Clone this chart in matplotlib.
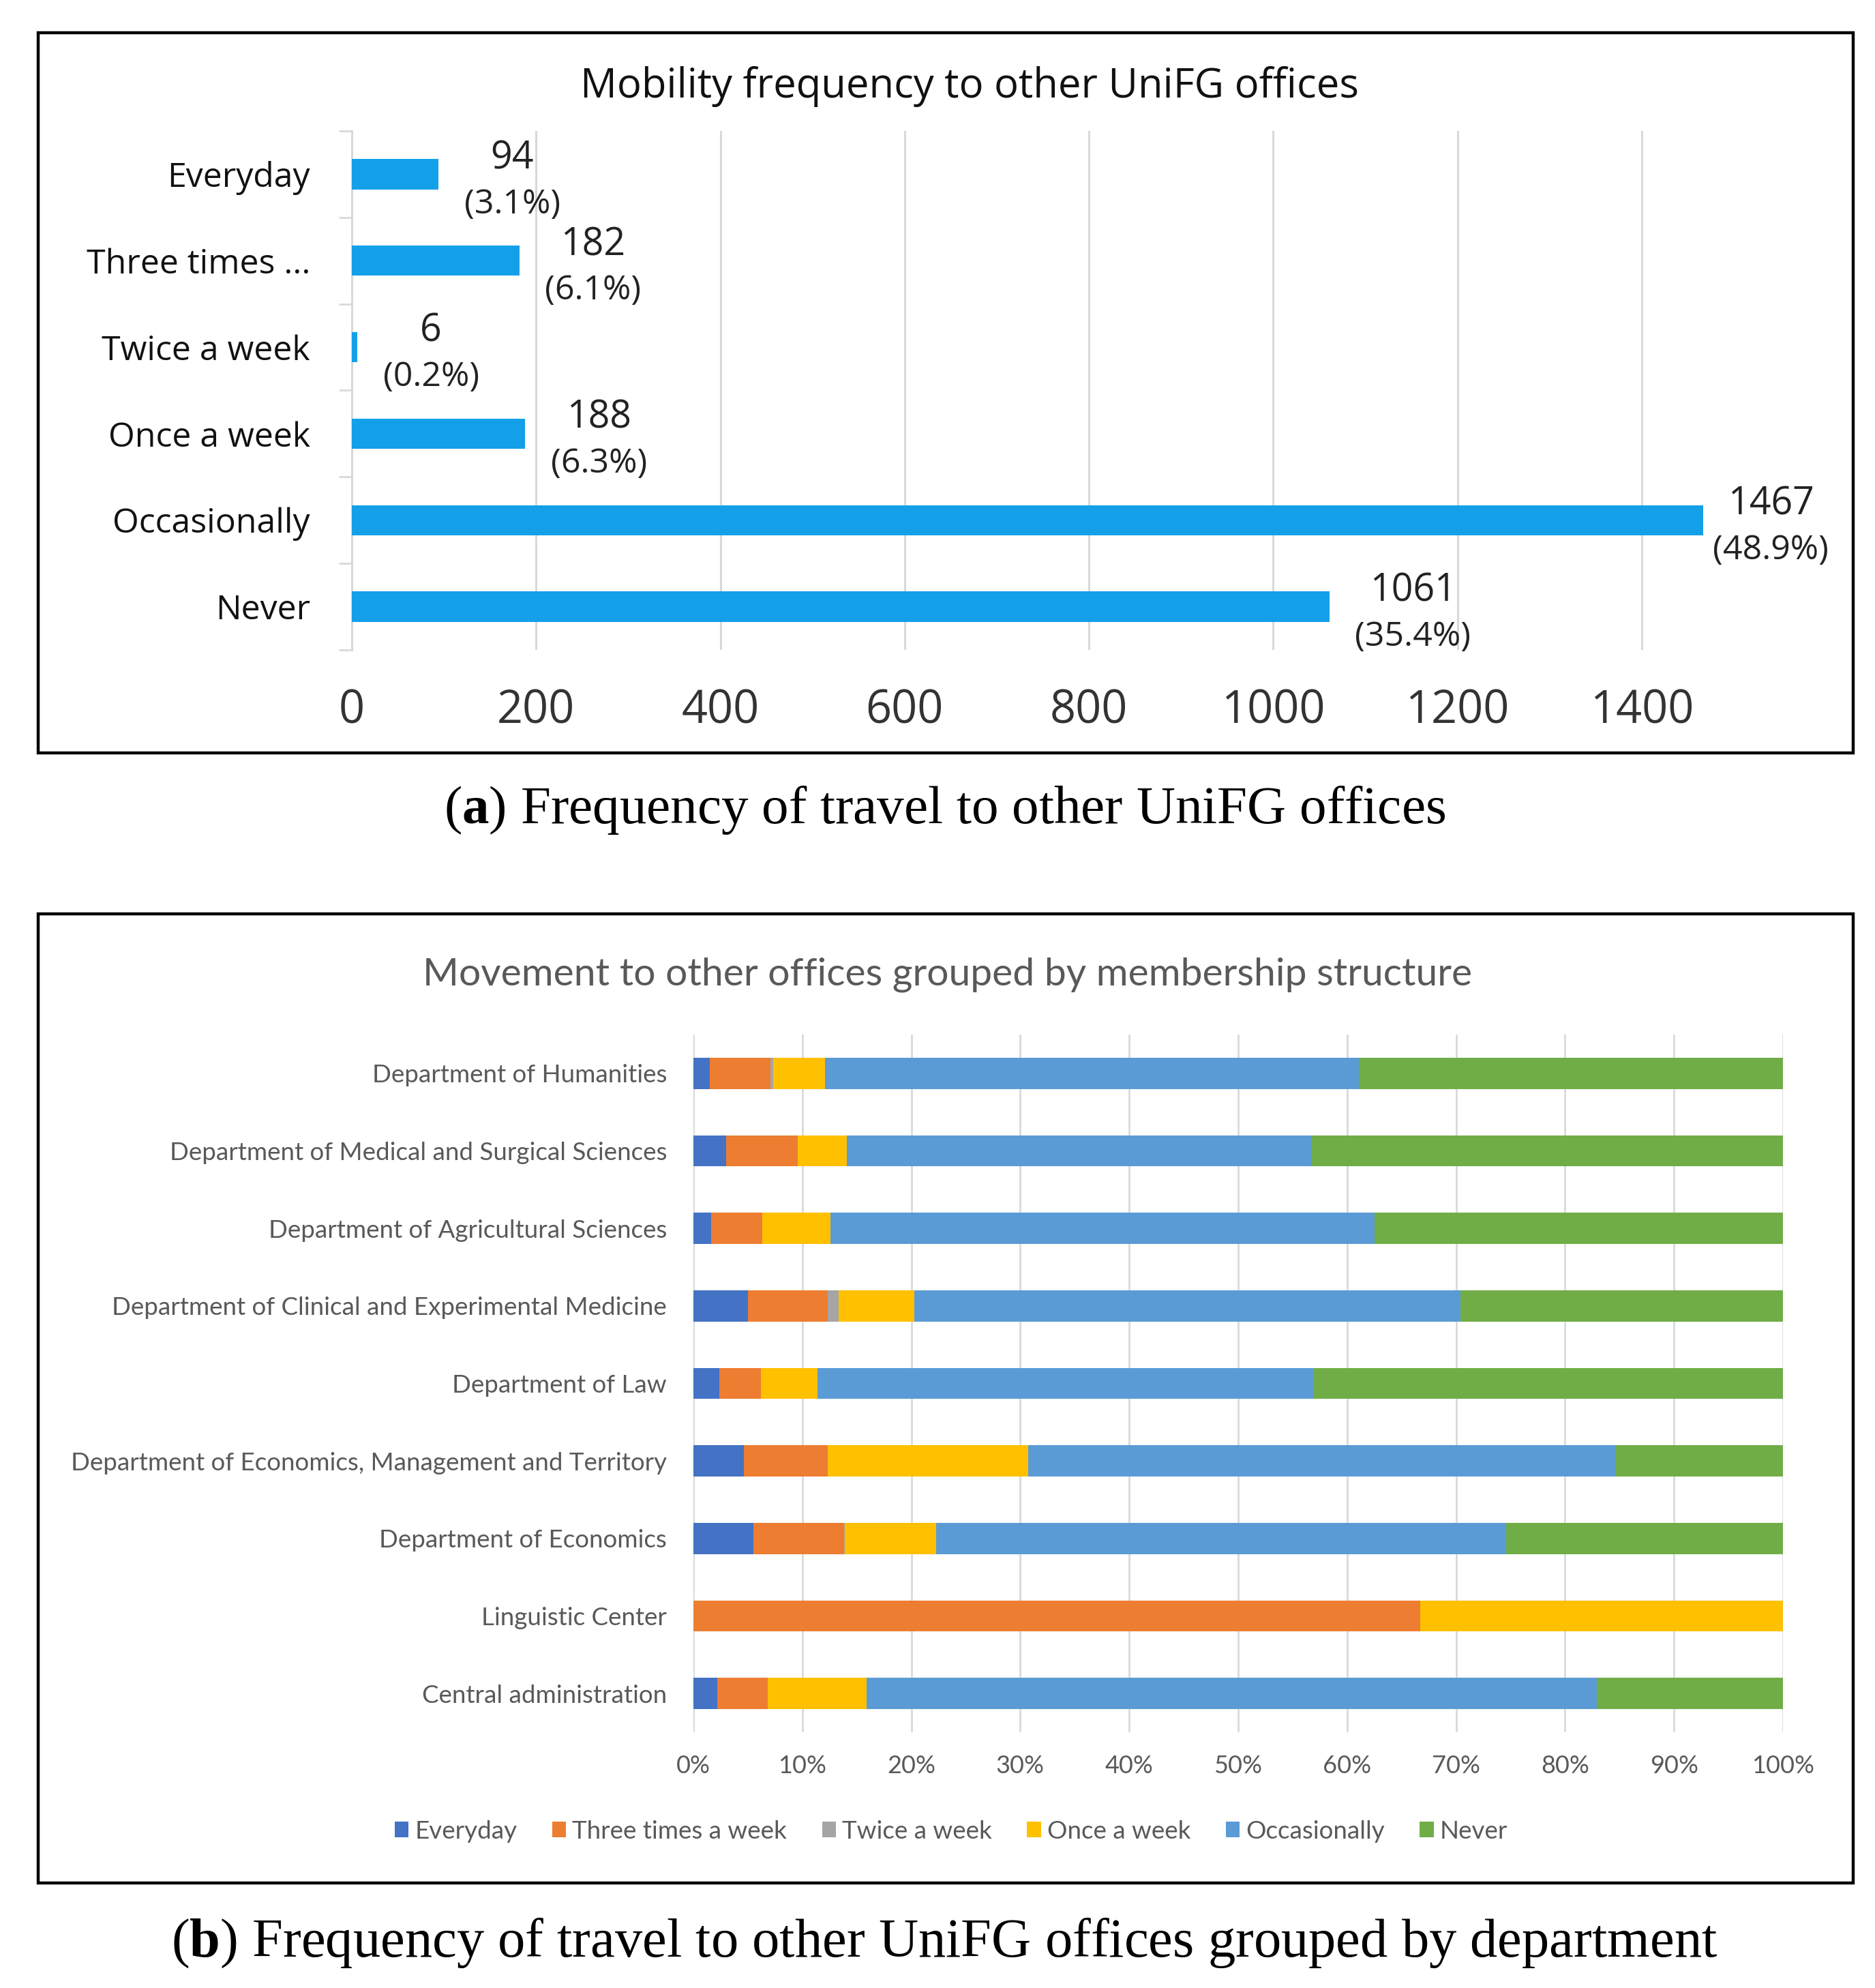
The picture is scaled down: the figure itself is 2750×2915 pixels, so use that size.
import matplotlib
matplotlib.use("Agg")
import matplotlib.pyplot as plt
from matplotlib.patches import Rectangle
import numpy as np

# ---------------- data ----------------
freq_categories = ["Everyday", "Three times ...", "Twice a week", "Once a week", "Occasionally", "Never"]
freq_counts = [94, 182, 6, 188, 1467, 1061]
freq_ticks = [0, 200, 400, 600, 800, 1000, 1200, 1400]

departments = [
    "Department of Humanities",
    "Department of Medical and Surgical Sciences",
    "Department of Agricultural Sciences",
    "Department of Clinical and Experimental Medicine",
    "Department of Law",
    "Department of Economics, Management and Territory",
    "Department of Economics",
    "Linguistic Center",
    "Central administration",
]
series_names = ["Everyday", "Three times a week", "Twice a week", "Once a week", "Occasionally", "Never"]
everyday     = [1.5, 3.0, 1.65, 5.0, 2.4, 4.6, 5.5, 0.0, 2.2]
three_times  = [5.6, 6.6, 4.65, 7.3, 3.8, 7.7, 8.3, 66.7, 4.6]
twice        = [0.2, 0.0, 0.0, 1.0, 0.0, 0.0, 0.1, 0.0, 0.0]
once         = [4.8, 4.5, 6.3, 7.0, 5.2, 18.4, 8.4, 33.3, 9.1]
occasionally = [49.0, 42.6, 49.9, 50.1, 45.5, 53.9, 52.3, 0.0, 67.0]
never        = [38.9, 43.3, 37.5, 29.6, 43.1, 15.4, 25.4, 0.0, 17.1]
pct_ticks = [0, 10, 20, 30, 40, 50, 60, 70, 80, 90, 100]

series_colors = ["#4472C4", "#ED7D31", "#A5A5A5", "#FFC000", "#5B9BD5", "#70AD47"]

plt.rcParams['mathtext.fontset'] = 'custom'
plt.rcParams['mathtext.rm'] = 'Liberation Serif'
plt.rcParams['mathtext.bf'] = 'Liberation Serif:bold'

W, H = 2750, 2915
fig = plt.figure(figsize=(W / 100, H / 100), dpi=100)

def fx(px):
    return px / W

def fy(py):
    return 1 - py / H

# panel frames
for (x0, y0, x1, y1) in [(56, 48, 2718, 1104), (56, 1340, 2718, 2761)]:
    fig.patches.append(Rectangle((fx(x0), fy(y1)), fx(x1) - fx(x0), fy(y0) - fy(y1),
                                 transform=fig.transFigure, fill=False, edgecolor="black",
                                 linewidth=3.2, zorder=10))

# ---------------- top panel ----------------
topfont = "Open Sans"
ax1 = fig.add_axes([fx(516), fy(953), fx(2570) - fx(516), fy(192) - fy(953)])
ypos = np.arange(len(freq_categories))
ax1.barh(ypos, freq_counts, height=0.35, color="#14A0E8", zorder=3)
ax1.set_ylim(len(freq_categories) - 0.5, -0.5)
ax1.set_xlim(0, 1520)
ax1.set_xticks(freq_ticks)
ax1.set_xticklabels([str(t) for t in freq_ticks], fontsize=48, family=topfont, color="#333333")
ax1.tick_params(axis="x", length=0, pad=40)
ax1.set_yticks(ypos)
ax1.set_yticklabels(freq_categories, fontsize=36, family=topfont, color="#111111")
ax1.tick_params(axis="y", which="major", length=0, pad=44)
ax1.set_yticks(np.arange(-0.5, len(freq_categories)), minor=True)
ax1.tick_params(axis="y", which="minor", length=14, width=2, color="#D9D9D9")
ax1.grid(axis="x", color="#D9D9D9", linewidth=2.2, zorder=0)
for s in ["top", "right", "bottom"]:
    ax1.spines[s].set_visible(False)
ax1.spines["left"].set_color("#D9D9D9")
ax1.spines["left"].set_linewidth(2.2)

total = sum(freq_counts)
pct_texts = []
for i, v in enumerate(freq_counts):
    pct = f"({v / total * 100:.1f}%)"
    pt = ax1.annotate(pct, xy=(v, i), xytext=(27, -32), textcoords="offset points",
                      ha="left", va="center", fontsize=36, family=topfont, color="#222222")
    ax1.annotate(str(v), xy=(0.5, 1.0), xycoords=pt, xytext=(0, 10), textcoords="offset points",
                 ha="center", va="bottom", fontsize=40, family=topfont, color="#222222")
    pct_texts.append(pt)

# keep labels inside the chart frame (like the spreadsheet does)
fig.canvas.draw()
limit_px = 2682
for pt in pct_texts:
    bb = pt.get_window_extent()
    if bb.x1 > limit_px:
        shift_pt = (bb.x1 - limit_px) * 72 / fig.dpi
        ox, oy = pt.xyann
        pt.xyann = (ox - shift_pt, oy)

fig.text(fx(1422), fy(127), "Mobility frequency to other UniFG offices", ha="center", va="center",
         fontsize=43, family=topfont, color="#111111")

fig.text(fx(1386), fy(1188), r"($\mathbf{a}$) Frequency of travel to other UniFG offices",
         ha="center", va="center", fontsize=57, family="Liberation Serif", color="black")

# ---------------- bottom panel ----------------
botfont = "Lato"
ax2 = fig.add_axes([fx(1017), fy(2540), fx(2615) - fx(1017), fy(1517) - fy(2540)])
data = [everyday, three_times, twice, once, occasionally, never]
yp = np.arange(len(departments))
left = np.zeros(len(departments))
for name, vals, col in zip(series_names, data, series_colors):
    vals = np.array(vals, dtype=float)
    ax2.barh(yp, vals, left=left, height=0.4, color=col, label=name, zorder=3)
    left += vals
ax2.set_ylim(len(departments) - 0.5, -0.5)
ax2.set_xlim(0, 100)
ax2.set_xticks(pct_ticks)
ax2.set_xticklabels([f"{t}%" for t in pct_ticks], fontsize=26, family=botfont, color="#595959")
ax2.tick_params(axis="x", length=0, pad=24)
ax2.set_yticks(yp)
ax2.set_yticklabels(departments, fontsize=26.5, family=botfont, color="#595959")
ax2.tick_params(axis="y", length=0, pad=28)
ax2.grid(axis="x", color="#D9D9D9", linewidth=2, zorder=0)
for s in ["top", "right", "bottom", "left"]:
    ax2.spines[s].set_visible(False)

fig.text(fx(1390), fy(1429), "Movement to other offices grouped by membership structure",
         ha="center", va="center", fontsize=41, family=botfont, color="#595959")

handles, labels = ax2.get_legend_handles_labels()
leg = fig.legend(handles, labels, loc="center", bbox_to_anchor=(fx(1395), fy(2685)), ncol=6,
                 frameon=False, handlelength=0.55, handleheight=0.55, handletextpad=0.25,
                 columnspacing=1.4, prop={"family": botfont, "size": 26.5})
for t in leg.get_texts():
    t.set_color("#595959")

fig.text(fx(1385), fy(2849), r"($\mathbf{b}$) Frequency of travel to other UniFG offices grouped by department",
         ha="center", va="center", fontsize=58, family="Liberation Serif", color="black")

fig.savefig("out.png", dpi=100)
